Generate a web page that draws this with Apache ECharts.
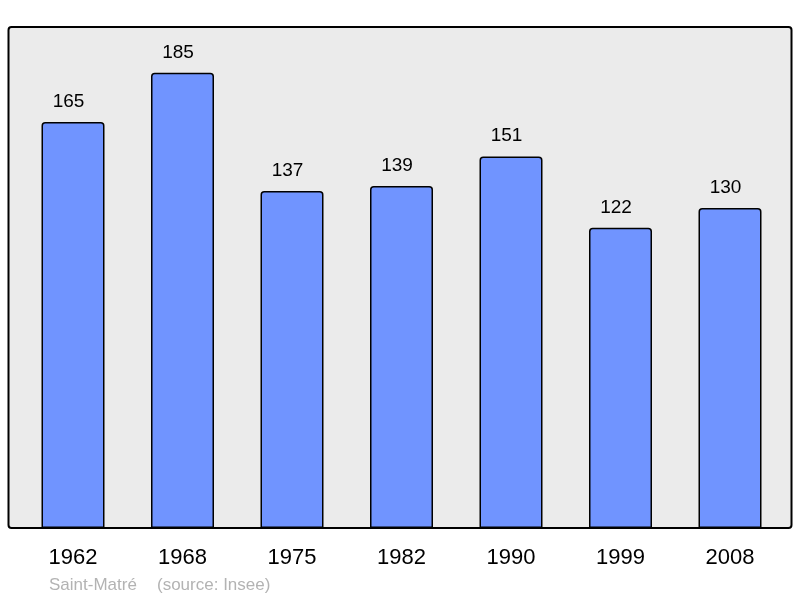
<!DOCTYPE html>
<html><head><meta charset="utf-8">
<script src="https://cdn.jsdelivr.net/npm/echarts@6/dist/echarts.min.js"></script>
<style>html,body{margin:0;padding:0;background:#fff}#c{width:800px;height:598px}</style>
</head><body><div id="c"></div>
<script>
const years = ['1962','1968','1975','1982','1990','1999','2008'];
const population = [165,185,137,139,151,122,130];
const place = 'Saint-Matré';
const source = '(source: Insee)';

const chart = echarts.init(document.getElementById('c'), null, {renderer:'canvas'});
chart.setOption({
  animation:false,
  backgroundColor:'#ffffff',
  textStyle:{fontFamily:'Liberation Sans, Arial, sans-serif'},
  graphic:[
    {type:'rect', z:-10, shape:{x:8.5,y:27,width:783,height:501,r:3},
     style:{fill:'#ebebeb',stroke:'#000',lineWidth:2}},
    {type:'text', left:49, top:577, style:{text:place, fill:'#b3b3b3', font:'17px "Liberation Sans", Arial, sans-serif'}},
    {type:'text', left:157, top:577, style:{text:source, fill:'#b3b3b3', font:'17px "Liberation Sans", Arial, sans-serif'}}
  ],
  grid:{left:18.25,right:15.25,top:27,bottom:70,containLabel:false},
  xAxis:{type:'category',data:years,
    axisLine:{show:false},axisTick:{show:false},
    axisLabel:{color:'#000',fontSize:22,margin:19,fontFamily:'Liberation Sans, Arial, sans-serif'}},
  yAxis:{type:'value',min:0,max:203.6,show:false,splitLine:{show:false}},
  series:[{type:'bar',data:population,barWidth:63,
    itemStyle:{color:'#7094ff',borderColor:'#000',borderWidth:1.5,borderRadius:[3,3,0,0]},
    label:{show:true,position:'top',distance:11,offset:[-4.5,0],color:'#000',fontSize:19,fontFamily:'Liberation Sans, Arial, sans-serif'}
  }]
});
</script></body></html>
